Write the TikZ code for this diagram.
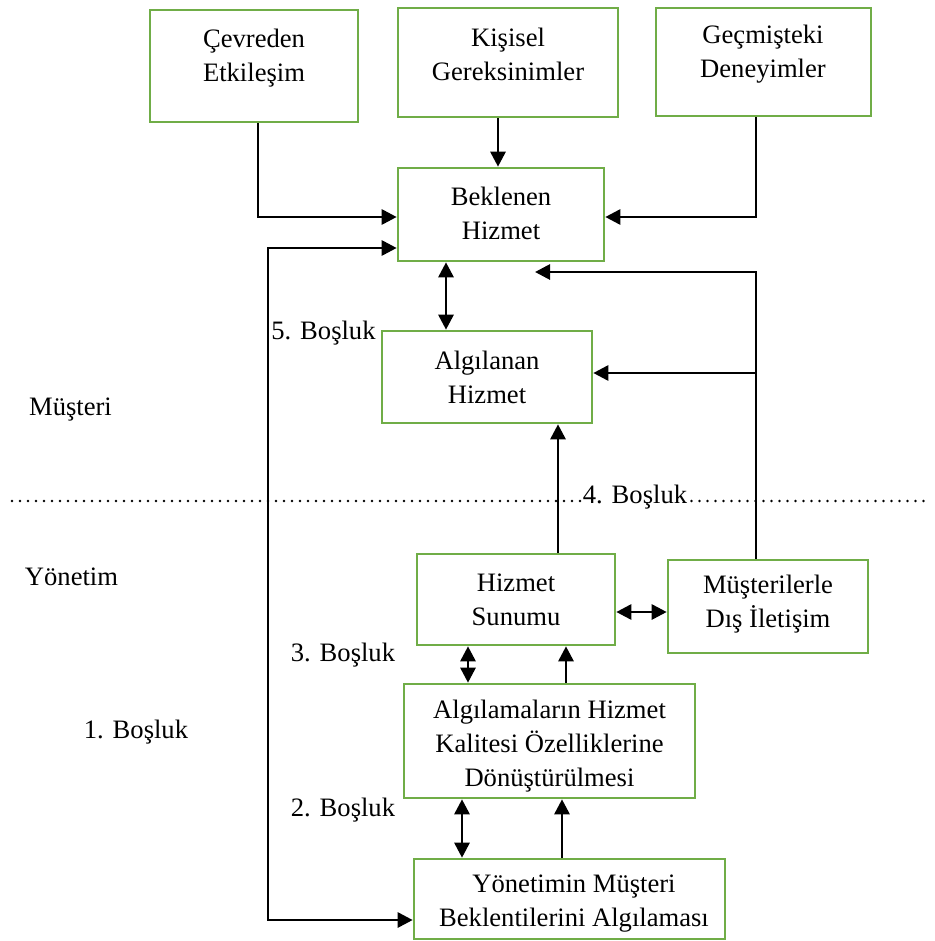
\documentclass[tikz,border=0pt]{standalone}
\usepackage{fontspec}
\setmainfont{Liberation Serif}
\usetikzlibrary{arrows.meta}
\definecolor{boxgreen}{RGB}{112,173,71}
\begin{document}
\begin{tikzpicture}[x=0.5pt,y=-0.5pt,
  box/.style={draw=boxgreen, line width=1.3pt, fill=white, inner sep=0pt},
  txt/.style={align=center, inner sep=0pt, font=\fontsize{13.3}{17}\selectfont},
  lbl/.style={inner sep=0pt, font=\fontsize{13.3}{17}\selectfont},
  tip/.style={Triangle[length=7.5pt,width=7.5pt]},
  conn/.style={line width=1.4pt, -{Triangle[length=7.5pt,width=7.5pt]}},
  both/.style={line width=1.4pt, {Triangle[length=7.5pt,width=7.5pt]}-{Triangle[length=7.5pt,width=7.5pt]}},
  dots/.style={line width=1.3pt, line cap=round, dash pattern=on 0pt off 4pt}]
\useasboundingbox (0,0) rectangle (935,941);

% boxes
\node[box, minimum width=104pt, minimum height=56pt]   (cev) at (254,66) {};
\node[box, minimum width=110pt, minimum height=54.5pt] (kis) at (508,62.5) {};
\node[box, minimum width=107.5pt, minimum height=54pt] (gec) at (763.5,62) {};
\node[box, minimum width=103pt, minimum height=46.5pt] (bek) at (501,214.5) {};
\node[box, minimum width=105pt, minimum height=46pt]   (alg) at (487,377) {};
\node[box, minimum width=99pt, minimum height=45.5pt]  (sun) at (516,599.5) {};
\node[box, minimum width=100pt, minimum height=46.5pt] (mus) at (768,606.5) {};
\node[box, minimum width=145.5pt, minimum height=57pt] (don) at (549.5,741) {};
\node[box, minimum width=155.5pt, minimum height=40pt] (yon) at (569.5,899) {};

% box texts
\node[txt] (cevt) at (254,58)  {Çevreden\\Etkileşim};
\node[txt] (kist) at (508,54) {Kişisel\\Gereksinimler};
\node[txt] (gect) at (763,54) {Geçmişteki\\Deneyimler};
\node[txt] (bekt) at (501,213) {Beklenen\\Hizmet};
\node[txt] (algt) at (487,377) {Algılanan\\Hizmet};
\node[txt] (sunt) at (516,599.5) {Hizmet\\Sunumu};
\node[txt] (must) at (768,604) {Müşterilerle\\Dış İletişim};
\node[txt] (dont) at (549.5,746) {Algılamaların Hizmet\\Kalitesi Özelliklerine\\Dönüştürülmesi};
\node[txt] (yont) at (574,904) {Yönetimin Müşteri\\Beklentilerini Algılaması};

% side labels
\node[lbl] (musteri) at (70.5,410) {Müşteri};
\node[lbl] (yonetim) at (71.5,577) {Yönetim};
\node[lbl] (gap1) at (136,732) {1. Boşluk};
\node[lbl] (gap5) at (323.5,333) {5. Boşluk};
\node[lbl] (gap3) at (343,655) {3. Boşluk};
\node[lbl] (gap2) at (343,810) {2. Boşluk};
\node[lbl, anchor=base] (gap4) at (635,503) {4. Boşluk};

% customer / management boundary
\coordinate (dl) at (12,501);
\coordinate (dr) at (930,501);
\draw[dots] (dl) -- ([xshift=-1pt]gap4.west |- dl);
\draw[dots] ([xshift=2pt]gap4.east |- dr) -- (dr);

% routing points
\coordinate (cevk) at (258,217);
\coordinate (kisx) at (498,0);
\coordinate (geck) at (756,217);
\coordinate (lt) at (268,248);
\coordinate (lb) at (268,920);
\coordinate (xb) at (446,0);
\coordinate (rt) at (756,272);
\coordinate (rtip) at (535,272);
\coordinate (rm) at (756,373);
\coordinate (xsa) at (558,0);
\coordinate (xsm) at (0,612);
\coordinate (xd1) at (468,0);
\coordinate (xd2) at (566,0);
\coordinate (xy1) at (462,0);
\coordinate (xy2) at (562,0);

% connectors
\draw[conn] (cev.south -| cevk) -- (cevk) -- (bek.west |- cevk);
\draw[conn] (kis.south -| kisx) -- (bek.north -| kisx);
\draw[conn] (gec.south -| geck) -- (geck) -- (bek.east |- geck);
\draw[both] (bek.west |- lt) -- (lt) -- (lb) -- (yon.west |- lb);
\draw[both] (bek.south -| xb) -- (alg.north -| xb);
\draw[conn] (mus.north -| rt) -- (rt) -- (rtip);
\draw[conn] (rm) -- (alg.east |- rm);
\draw[conn] (sun.north -| xsa) -- (alg.south -| xsa);
\draw[both] (sun.east |- xsm) -- (mus.west |- xsm);
\draw[both] (sun.south -| xd1) -- (don.north -| xd1);
\draw[conn] (don.north -| xd2) -- (sun.south -| xd2);
\draw[both] (don.south -| xy1) -- (yon.north -| xy1);
\draw[conn] (yon.north -| xy2) -- (don.south -| xy2);
\end{tikzpicture}
\end{document}
